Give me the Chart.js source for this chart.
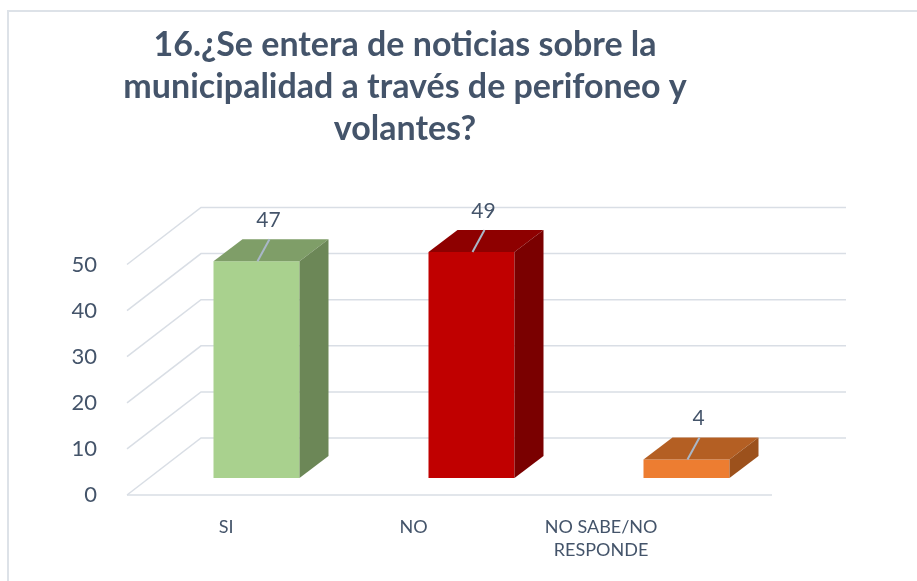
<!DOCTYPE html>
<html>
<head>
<meta charset="utf-8">
<script src="https://cdn.jsdelivr.net/npm/chart.js@4.4.1/dist/chart.umd.min.js"></script>
<style>
  html, body { margin: 0; padding: 0; background: #fff; }
  #wrap { width: 917px; height: 581px; position: relative; }
</style>
</head>
<body>
<div id="wrap"><canvas id="chart" width="917" height="581"></canvas></div>
<script>
// Survey answers
const categories = ['SI', 'NO', ['NO SABE/NO', 'RESPONDE']];
const answers = [47, 49, 4];
const yTicks = [0, 10, 20, 30, 40, 50];

const frontColors = ['#A9D18E', '#C00000', '#ED7D31'];
const topColors = ['#7F9E68', '#8E0000', '#B45F23'];
const sideColors = ['#6C8757', '#7A0000', '#9C511C'];

const TEXT = '#44546A';
const GRID = '#D9DEE5';

// depth of the floor and where the bars sit inside it
const DEPTH_X = 74, DEPTH_Y = 57;
const BAR_OFF_X = 22, BAR_OFF_Y = 17;
const BAR_DX = 29, BAR_DY = 22;

const box3d = {
  id: 'box3d',
  beforeDraw(chart) {
    const ctx = chart.ctx;
    const area = chart.chartArea;
    const y = chart.scales.y;
    ctx.save();
    ctx.fillStyle = '#fff';
    ctx.fillRect(0, 0, chart.width, chart.height);
    // outer frame
    ctx.strokeStyle = '#DDE2E8';
    ctx.lineWidth = 2;
    ctx.strokeRect(8, 11, chart.width + 20, chart.height + 20);

    ctx.strokeStyle = GRID;
    ctx.lineWidth = 1.5;
    yTicks.forEach(v => {
      const yf = y.getPixelForValue(v);
      ctx.beginPath();
      ctx.moveTo(area.left, yf);
      ctx.lineTo(area.left + DEPTH_X, yf - DEPTH_Y);
      ctx.lineTo(area.right + DEPTH_X, yf - DEPTH_Y);
      ctx.stroke();
    });
    // front edge of the floor
    const y0 = y.getPixelForValue(0);
    ctx.beginPath();
    ctx.moveTo(area.left, y0);
    ctx.lineTo(area.right, y0);
    ctx.stroke();
    ctx.restore();
  },
  beforeDatasetsDraw(chart) {
    chart.ctx.save();
    chart.ctx.translate(BAR_OFF_X, -BAR_OFF_Y);
  },
  afterDatasetsDraw(chart) {
    const ctx = chart.ctx;
    const meta = chart.getDatasetMeta(0);
    meta.data.forEach((bar, i) => {
      const l = bar.x - bar.width / 2, r = bar.x + bar.width / 2;
      ctx.fillStyle = topColors[i];
      ctx.beginPath();
      ctx.moveTo(l, bar.y);
      ctx.lineTo(r, bar.y);
      ctx.lineTo(r + BAR_DX, bar.y - BAR_DY);
      ctx.lineTo(l + BAR_DX, bar.y - BAR_DY);
      ctx.closePath();
      ctx.fill();
      ctx.fillStyle = sideColors[i];
      ctx.beginPath();
      ctx.moveTo(r, bar.y);
      ctx.lineTo(r + BAR_DX, bar.y - BAR_DY);
      ctx.lineTo(r + BAR_DX, bar.base - BAR_DY);
      ctx.lineTo(r, bar.base);
      ctx.closePath();
      ctx.fill();

      // value label with leader line
      ctx.strokeStyle = '#A9B7C8';
      ctx.lineWidth = 2;
      ctx.beginPath();
      ctx.moveTo(bar.x + 1, bar.y);
      ctx.lineTo(bar.x + 13, bar.y - 22);
      ctx.stroke();
      ctx.fillStyle = TEXT;
      ctx.font = '21px Lato';
      ctx.textAlign = 'center';
      ctx.textBaseline = 'middle';
      ctx.fillText(String(answers[i]), bar.x + 12, bar.y - 41);
    });
    ctx.restore();
  },
  afterDraw(chart) {
    const ctx = chart.ctx;
    const x = chart.scales.x;
    const area = chart.chartArea;
    // category labels sit in front of the floor, pulled toward the left in perspective
    const vx = area.left + 42, k = 0.872;
    ctx.save();
    ctx.fillStyle = TEXT;
    ctx.font = '18px Lato';
    ctx.textAlign = 'center';
    ctx.textBaseline = 'middle';
    categories.forEach((c, i) => {
      const px = vx + (x.getPixelForValue(i) - vx) * k;
      const lines = Array.isArray(c) ? c : [c];
      lines.forEach((t, j) => ctx.fillText(t, px, area.bottom + 32 + j * 23));
    });
    ctx.restore();
  }
};

new Chart(document.getElementById('chart'), {
  type: 'bar',
  data: {
    labels: categories,
    datasets: [{
      data: answers,
      backgroundColor: frontColors,
      borderWidth: 0,
      barPercentage: 0.4,
      categoryPercentage: 1
    }]
  },
  options: {
    responsive: false,
    animation: false,
    layout: { padding: { left: 38, right: 145, top: 0, bottom: 86 } },
    plugins: {
      legend: { display: false },
      tooltip: { enabled: false },
      title: {
        display: true,
        text: ['16.¿Se entera de noticias sobre la', 'municipalidad a través de perifoneo y', 'volantes?'],
        color: TEXT,
        font: { family: 'Lato', size: 34, weight: 'bold', lineHeight: 1.24 },
        padding: { top: 24, bottom: 114 }
      }
    },
    scales: {
      x: { display: false },
      y: {
        min: 0,
        max: 50,
        grid: { display: false },
        border: { display: false },
        afterFit(scale) { scale.width = 89; },
        ticks: {
          stepSize: 10,
          padding: 22,
          color: TEXT,
          font: { family: 'Lato', size: 22 }
        }
      }
    }
  },
  plugins: [box3d]
});
</script>
</body>
</html>
